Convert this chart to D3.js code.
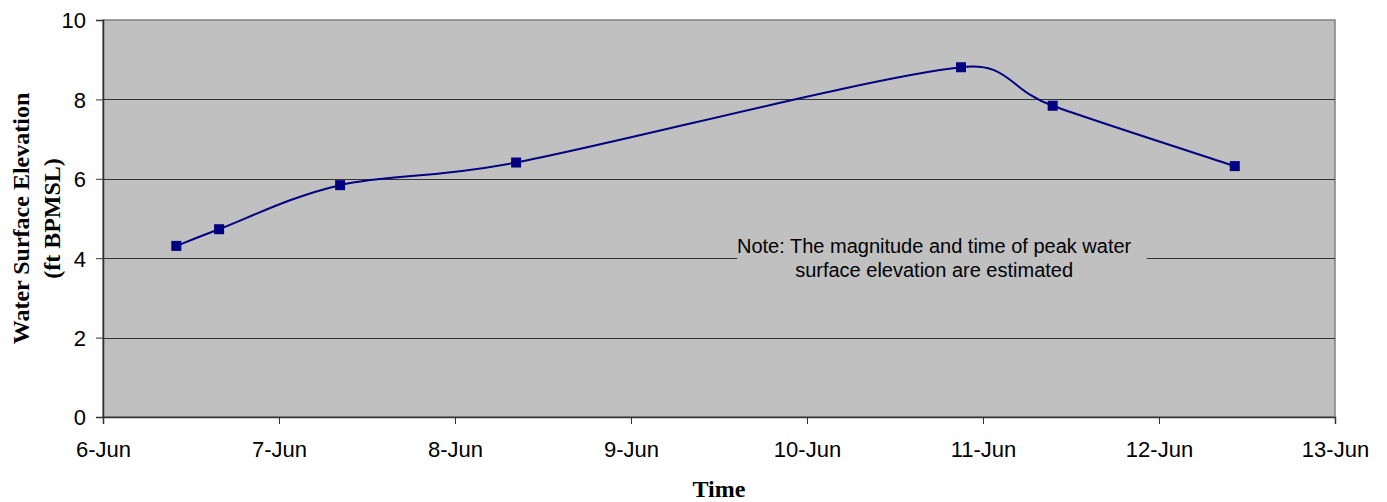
<!DOCTYPE html>
<html>
<head>
<meta charset="utf-8">
<script src="https://cdn.jsdelivr.net/npm/d3@7"></script>
<style>
  body { margin: 0; background: #fff; }
  .tick text { font-family: "Liberation Sans", Arial, sans-serif; font-size: 22px; fill: #000; }
  .axis-title { font-family: "Liberation Serif", "Times New Roman", serif; font-weight: bold; font-size: 24px; fill: #000; }
  .note { font-family: "Liberation Sans", Arial, sans-serif; font-size: 20px; fill: #000; }
</style>
</head>
<body>
<div id="chart"></div>
<script>
var times = ["2005-06-06T10:00", "2005-06-06T15:50", "2005-06-07T08:20", "2005-06-08T08:20",
             "2005-06-10T21:00", "2005-06-11T09:30", "2005-06-12T10:20"]
var levels = [4.31, 4.73, 5.84, 6.41, 8.81, 7.84, 6.32]
var xDomain = ["2005-06-06T00:00", "2005-06-13T00:00"]
var yTicks = [0, 2, 4, 6, 8, 10]
var noteLines = ["Note: The magnitude and time of peak water", "surface elevation are estimated"]

var parseTime = d3.timeParse("%Y-%m-%dT%H:%M")
var data = times.map(function(t, i) { return { date: parseTime(t), level: levels[i] } })

var margin = { top: 20, right: 52, bottom: 85, left: 103 };
var width = 1387 - margin.left - margin.right
var height = 502 - margin.top - margin.bottom

// Excel-style smoothed line: bezier arms of 1/6 the neighbour chord,
// capped at half the segment length
function curveExcel(context) {
    var pts = []
    return {
        areaStart: function() {},
        areaEnd: function() {},
        lineStart: function() { pts = [] },
        point: function(x, y) { pts.push([+x, +y]) },
        lineEnd: function() {
            var n = pts.length
            if (!n) return
            context.moveTo(pts[0][0], pts[0][1])
            var dist = function(a, b) { return Math.hypot(b[0] - a[0], b[1] - a[1]) }
            for (var i = 0; i < n - 1; i++) {
                var p0 = pts[Math.max(i - 1, 0)], p1 = pts[i], p2 = pts[i + 1], p3 = pts[Math.min(i + 2, n - 1)]
                var d12 = dist(p1, p2), d02 = dist(p0, p2), d13 = dist(p1, p3)
                var f1 = d02 / 6 < d12 / 2 ? 1 / 6 : d12 / (2 * d02)
                var f2 = d13 / 6 < d12 / 2 ? 1 / 6 : d12 / (2 * d13)
                context.bezierCurveTo(
                    p1[0] + f1 * (p2[0] - p0[0]), p1[1] + f1 * (p2[1] - p0[1]),
                    p2[0] - f2 * (p3[0] - p1[0]), p2[1] - f2 * (p3[1] - p1[1]),
                    p2[0], p2[1])
            }
        }
    }
}

var svg = d3.select("#chart").append("svg")
    .attr("width", width + margin.left + margin.right)
    .attr("height", height + margin.top + margin.bottom)
    .append("g")
    .attr("transform", "translate(" + margin.left + "," + margin.top + ")")

var x = d3.scaleTime()
    .domain(xDomain.map(parseTime))
    .range([0, width])

var y = d3.scaleLinear()
    .domain([0, 10])
    .range([height, 0])

// plot area
svg.append("rect")
    .attr("width", width)
    .attr("height", height)
    .style("fill", "#c0c0c0")
    .style("stroke", "#808080")
    .style("stroke-width", 1.5)

// gridlines
svg.append("g")
    .selectAll("line")
    .data(yTicks.filter(function(d) { return d > 0 && d < 10 }))
    .enter().append("line")
    .attr("x1", 0)
    .attr("x2", width)
    .attr("y1", function(d) { return Math.round(y(d)) + 0.5 })
    .attr("y2", function(d) { return Math.round(y(d)) + 0.5 })
    .style("stroke", "#333")
    .style("stroke-width", 1.2)

// note box (covers gridline behind it)
var noteY = y(4)
var noteCx = x(parseTime("2005-06-10T17:20"))
svg.append("rect")
    .attr("x", x(parseTime("2005-06-09T14:30")))
    .attr("y", noteY - 26)
    .attr("width", x(parseTime("2005-06-11T22:20")) - x(parseTime("2005-06-09T14:30")))
    .attr("height", 52)
    .style("fill", "#c0c0c0")

svg.append("text")
    .attr("class", "note")
    .attr("x", noteCx)
    .attr("y", noteY - 5)
    .style("text-anchor", "middle")
    .selectAll("tspan")
    .data(noteLines)
    .enter().append("tspan")
    .attr("x", noteCx)
    .attr("dy", function(d, i) { return i === 0 ? 0 : 23.5 })
    .text(function(d) { return d })

// axes
var xAxis = d3.axisBottom(x)
    .ticks(d3.timeDay.every(1))
    .tickFormat(d3.timeFormat("%-d-%b"))
    .tickSize(7)
    .tickPadding(17)

var yAxis = d3.axisLeft(y)
    .tickValues(yTicks)
    .tickSize(7)
    .tickPadding(10)

var gx = svg.append("g")
    .attr("transform", "translate(0," + height + ")")
    .call(xAxis)
gx.select(".domain").style("stroke", "#333").style("stroke-width", 1.5)
gx.selectAll(".tick line").style("stroke", "#333")

var gy = svg.append("g")
    .call(yAxis)
gy.select(".domain").style("stroke", "#333").style("stroke-width", 1.5)
gy.selectAll(".tick line").style("stroke", "#333")
gy.selectAll(".tick text").attr("dy", "0.36em")

var line = d3.line()
    .x(function(d) { return x(d.date) })
    .y(function(d) { return y(d.level) })
    .curve(curveExcel)

svg.append("path")
    .datum(data)
    .attr("d", line)
    .style("fill", "none")
    .style("stroke", "#000080")
    .style("stroke-width", 2)

svg.append("g")
    .selectAll("rect")
    .data(data)
    .enter().append("rect")
    .attr("x", function(d) { return x(d.date) - 5 })
    .attr("y", function(d) { return y(d.level) - 5 })
    .attr("width", 10)
    .attr("height", 10)
    .style("fill", "#000080")

// axis titles
svg.append("text")
    .attr("class", "axis-title")
    .attr("x", width / 2)
    .attr("y", height + 80)
    .style("text-anchor", "middle")
    .text("Time")

var yTitle = svg.append("text")
    .attr("class", "axis-title")
    .attr("transform", "translate(" + (-74) + "," + (height / 2) + ") rotate(-90)")
    .style("text-anchor", "middle")

yTitle.append("tspan").attr("x", 0).attr("dy", 0).text("Water Surface Elevation")
yTitle.append("tspan").attr("x", 0).attr("dy", 31).text("(ft BPMSL)")
</script>
</body>
</html>
